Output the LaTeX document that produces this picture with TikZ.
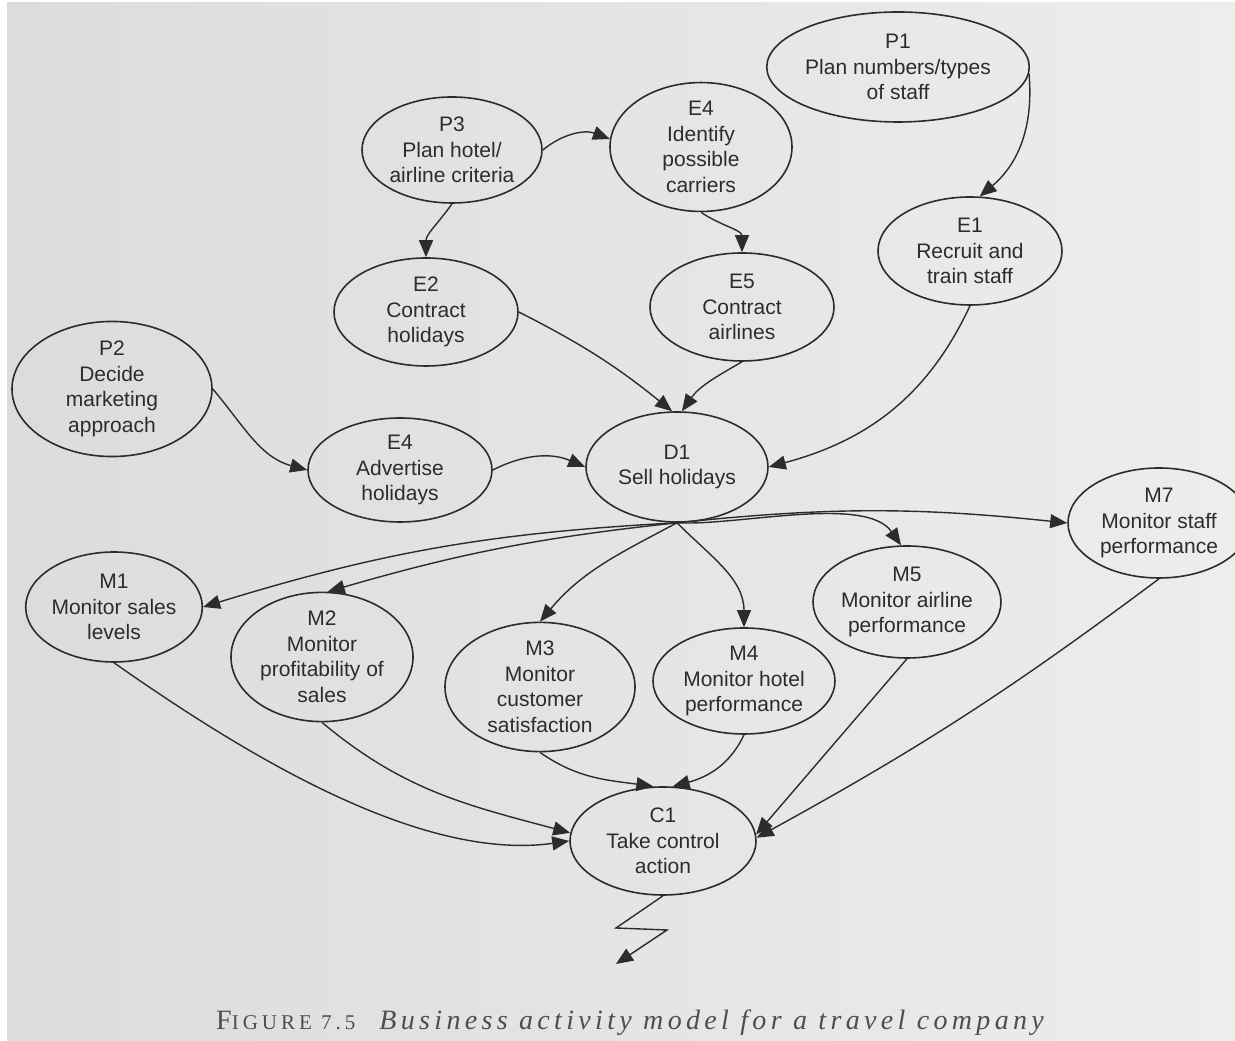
\documentclass[tikz,border=0pt]{standalone}
\usepackage{fontspec}
\setmainfont{Liberation Sans}
\newfontfamily\capscfont{Liberation Serif}[LetterSpace=19]
\newfontfamily\capitfont{Liberation Serif}[LetterSpace=15.5]
\usetikzlibrary{shapes.geometric,arrows.meta}
\definecolor{ink}{HTML}{2C2C2C}
\definecolor{paperL}{HTML}{DCDCDC}
\definecolor{paperR}{HTML}{EDEDED}
\definecolor{capink}{HTML}{4E4E4E}

\begin{document}
\begin{tikzpicture}[x=1pt,y=1pt,
  act/.style={ellipse, draw=ink, line width=1.6pt, inner sep=0pt, align=center,
    text=ink, font=\fontsize{21}{25.5}\selectfont},
  flow/.style={draw=ink, line width=1.4pt, -{Triangle[length=17pt,width=14pt]}},
]
\useasboundingbox (0,0) rectangle (1235,1041);
\fill[white] (0,0) rectangle (1235,1041);
\shade[left color=paperL, right color=paperR] (7,0) rectangle (1235,1038);

% planning activities
\node[act, minimum width=240pt, minimum height=110pt] (P1) at (898,974) {P1\\Plan numbers/types\\of staff};
\node[act, minimum width=180pt, minimum height=106pt] (P3) at (452,891) {P3\\Plan hotel/\\airline criteria};
\node[act, minimum width=200pt, minimum height=122pt] (P2) at (112,652) {P2\\Decide\\marketing\\approach};

% enabling activities
\node[act, minimum width=182pt, minimum height=110pt] (E4i) at (701,894) {E4\\Identify\\possible\\carriers};
\node[act, minimum width=184pt, minimum height=108pt] (E1) at (970,790) {E1\\Recruit and\\train staff};
\node[act, minimum width=184pt, minimum height=108pt] (E2) at (426,729) {E2\\Contract\\holidays};
\node[act, minimum width=184pt, minimum height=108pt] (E5) at (742,734) {E5\\Contract\\airlines};
\node[act, minimum width=184pt, minimum height=104pt] (E4a) at (400,571) {E4\\Advertise\\holidays};

% doing activity
\node[act, minimum width=182pt, minimum height=110pt] (D1) at (677,574) {D1\\Sell holidays};

% monitoring activities
\node[act, minimum width=182pt, minimum height=110pt] (M7) at (1159,518) {M7\\Monitor staff\\performance};
\node[act, minimum width=176pt, minimum height=110pt] (M1) at (114,434) {M1\\Monitor sales\\levels};
\node[act, minimum width=188pt, minimum height=112pt] (M5) at (907,439) {M5\\Monitor airline\\performance};
\node[act, minimum width=182pt, minimum height=110pt] (M2) at (322,384) {M2\\Monitor\\profitability of\\sales};
\node[act, minimum width=190pt, minimum height=114pt] (M3) at (540,354) {M3\\Monitor\\customer\\satisfaction};
\node[act, minimum width=182pt, minimum height=106pt] (M4) at (744,360) {M4\\Monitor hotel\\performance};

% control activity
\node[act, minimum width=186pt, minimum height=108pt] (C1) at (663,200) {C1\\Take control\\action};

% planning -> enabling
\draw[flow] (P3.east) to[bend left=30] (E4i.175);
\draw[flow] (P3.south) to[out=-125,in=90] (E2.north);
\draw[flow] (E4i.south) to[out=-35,in=90] (E5.north);
\draw[flow] (P1.-3) to[out=-85,in=40] (E1.80);
\draw[flow] (P2.east) to[out=-50,in=165] (E4a.west);

% enabling -> doing
\draw[flow] (E2.east) to[bend left=6] (D1.95);
\draw[flow] (E5.south) to[out=-150,in=55] (D1.85);
\draw[flow] (E1.south) to[out=-115,in=15] (D1.east);
\draw[flow] (E4a.east) to[bend left=25] (D1.west);

% doing -> monitoring
\draw[flow] (D1.south) to[bend right=7] (M1.east);
\draw[flow] (D1.south) to[bend right=5] (M2.85);
\draw[flow] (D1.south) to[out=-152,in=50] (M3.north);
\draw[flow] (D1.south) to[out=-45,in=90] (M4.north);
\draw[flow] (D1.south) to[out=-3,in=125,looseness=0.7] (M5.96);
\draw[flow] (D1.south) to[bend left=6] (M7.west);

% monitoring -> control
\draw[flow] (M1.south) to[out=-35,in=188,looseness=0.8] (C1.west);
\draw[flow] (M2.south) to[out=-40,in=165] (C1.175);
\draw[flow] (M3.south) to[out=-35,in=172] (C1.100);
\draw[flow] (M4.south) to[out=-115,in=15] (C1.80);
\draw[flow] (M5.south) -- (C1.4);
\draw[flow] (M7.south) to[bend left=4] (C1.2);

% outgoing control action
\coordinate (z1) at (616,113);
\coordinate (z2) at (667,111);
\coordinate (z3) at (616,77);
\draw[flow] (C1.south) -- (z1) -- (z2) -- (z3);

% caption
\node[anchor=base west, inner sep=0pt, text=capink] (cap) at (216,11)
  {\capscfont\fontsize{28}{32}\selectfont F\fontsize{21}{32}\selectfont IGURE 7.5\hspace{24pt}%
   \capitfont\itshape\fontsize{28}{32}\selectfont Business activity model for a travel company};
\end{tikzpicture}
\end{document}
